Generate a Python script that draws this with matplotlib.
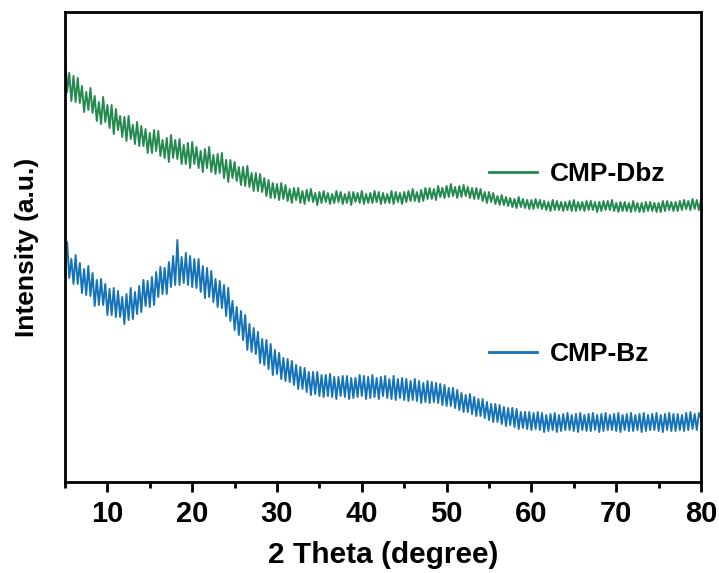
import matplotlib

matplotlib.use("Agg")
import matplotlib.pyplot as plt
import numpy as np
from matplotlib.lines import Line2D
from matplotlib.ticker import MultipleLocator


# 2 theta grid, 0.25 degree step from 5 to 80
TWO_THETA = np.arange(5.0, 80.001, 0.25)

# intensities (arbitrary units), 8 values = 2 degrees
CMP_DBZ = [
    432, 390, 409, 381, 406, 380, 404, 379,
    396, 370, 390, 372, 394, 369, 386, 361,
    380, 358, 385, 360, 377, 354, 377, 348,
    373, 352, 366, 345, 365, 341, 366, 343,
    357, 338, 360, 336, 356, 336, 353, 329,
    349, 329, 352, 331, 351, 326, 342, 324,
    344, 320, 347, 324, 342, 323, 343, 318,
    337, 318, 339, 314, 340, 318, 335, 314,
    331, 310, 333, 314, 335, 310, 327, 308,
    328, 309, 329, 304, 322, 300, 322, 304,
    320, 301, 315, 297, 315, 296, 316, 295,
    309, 291, 309, 291, 308, 290, 304, 286,
    302, 284, 299, 284, 298, 282, 299, 283,
    297, 281, 293, 279, 294, 282, 294, 279,
    291, 278, 292, 281, 293, 280, 289, 277,
    290, 279, 291, 280, 289, 278, 288, 279,
    291, 280, 290, 278, 288, 279, 290, 277,
    290, 280, 289, 279, 291, 278, 288, 279,
    289, 279, 291, 280, 290, 278, 289, 279,
    288, 279, 291, 278, 290, 280, 289, 278,
    290, 280, 291, 281, 293, 281, 290, 280,
    292, 281, 294, 283, 294, 283, 293, 282,
    296, 285, 294, 284, 296, 285, 298, 286,
    295, 284, 296, 285, 297, 286, 295, 284,
    294, 283, 294, 283, 293, 281, 290, 279,
    290, 280, 289, 278, 286, 277, 287, 277,
    285, 276, 284, 275, 283, 274, 285, 275,
    283, 274, 282, 273, 282, 273, 283, 274,
    282, 273, 281, 272, 280, 271, 282, 272,
    281, 272, 280, 271, 280, 272, 281, 271,
    282, 271, 280, 272, 280, 271, 281, 272,
    281, 272, 280, 270, 280, 271, 281, 272,
    281, 272, 282, 271, 279, 270, 280, 271,
    280, 271, 279, 270, 281, 271, 279, 270,
    279, 270, 280, 271, 280, 271, 279, 270,
    279, 270, 281, 271, 281, 272, 280, 271,
    280, 271, 281, 272, 282, 273, 281, 272,
    283, 273, 282, 272, 282,
]

CMP_BZ = [
    238, 240, 204, 223, 198, 227, 198, 219,
    189, 213, 187, 216, 186, 209, 176, 202,
    177, 203, 177, 198, 167, 193, 167, 194,
    165, 191, 165, 185, 158, 188, 162, 194,
    163, 190, 168, 196, 170, 202, 176, 201,
    175, 205, 177, 210, 185, 215, 188, 214,
    188, 220, 195, 226, 197, 242, 197, 225,
    199, 229, 197, 226, 195, 223, 194, 223,
    190, 216, 184, 214, 185, 211, 180, 203,
    175, 201, 174, 197, 166, 194, 161, 181,
    152, 175, 147, 171, 142, 167, 132, 158,
    130, 154, 128, 150, 119, 143, 117, 142,
    113, 138, 107, 132, 108, 129, 103, 124,
    101, 123, 100, 121, 97, 117, 93, 115,
    93, 114, 90, 110, 87, 110, 88, 110,
    86, 107, 85, 107, 86, 108, 85, 105,
    83, 105, 86, 106, 85, 106, 83, 104,
    84, 104, 85, 107, 86, 106, 83, 105,
    84, 107, 85, 104, 83, 105, 86, 106,
    84, 103, 83, 106, 82, 103, 84, 104,
    82, 103, 81, 101, 82, 103, 81, 101,
    79, 99, 80, 101, 79, 100, 80, 99,
    79, 98, 77, 97, 76, 94, 76, 94,
    74, 92, 72, 89, 70, 87, 70, 88,
    68, 85, 66, 83, 66, 83, 64, 80,
    62, 78, 60, 78, 60, 77, 58, 75,
    56, 74, 57, 74, 55, 73, 53, 70,
    54, 70, 53, 70, 52, 69, 53, 70,
    52, 69, 50, 67, 51, 68, 52, 69,
    50, 67, 51, 68, 52, 69, 52, 67,
    51, 68, 50, 69, 52, 67, 51, 68,
    51, 69, 52, 67, 50, 68, 51, 69,
    52, 67, 52, 68, 51, 69, 50, 67,
    52, 68, 51, 69, 51, 67, 52, 68,
    50, 69, 51, 67, 52, 68, 52, 69,
    51, 67, 50, 68, 52, 69, 51, 68,
    51, 68, 52, 67, 51, 69, 52, 70,
    53, 68, 52, 69, 64,
]

X_TICKS = [10, 20, 30, 40, 50, 60, 70, 80]

GREEN = "#23894f"
BLUE = "#1372b8"

BOLD = ["Liberation Sans", "DejaVu Sans"]


def main():
    fig = plt.figure(figsize=(7.19, 5.73), dpi=100)
    ax = fig.add_axes([0.0904, 0.1588, 0.8846, 0.8203])

    ax.plot(TWO_THETA, CMP_DBZ, color=GREEN, linewidth=1.4)
    ax.plot(TWO_THETA, CMP_BZ, color=BLUE, linewidth=1.4)

    ax.set_xlim(5, 80)
    ax.set_ylim(0, 470)
    ax.set_yticks([])
    ax.set_xticks(X_TICKS)
    ax.xaxis.set_minor_locator(MultipleLocator(5))
    ax.tick_params(axis="x", which="major", direction="out", length=7, width=2, pad=6)
    ax.tick_params(axis="x", which="minor", direction="out", length=4, width=2)
    for lab in ax.get_xticklabels():
        lab.set_fontfamily(BOLD)
        lab.set_fontweight("bold")
        lab.set_fontsize(21)
    for sp in ax.spines.values():
        sp.set_linewidth(2)

    ax.set_xlabel("2 Theta (degree)", fontfamily=BOLD, fontweight="bold",
                  fontsize=21.5, labelpad=9)
    ax.set_ylabel("Intensity (a.u.)", fontfamily=BOLD, fontweight="bold",
                  fontsize=19, labelpad=19)

    h_dbz = Line2D([], [], color=GREEN, linewidth=2)
    h_bz = Line2D([], [], color=BLUE, linewidth=2)
    leg_font = {"family": BOLD, "weight": "bold", "size": 19}
    leg1 = ax.legend([h_dbz], ["CMP-Dbz"], loc="center left",
                     bbox_to_anchor=(0.629, 0.655), frameon=False, prop=leg_font,
                     handlelength=1.82, handletextpad=0.5)
    ax.add_artist(leg1)
    ax.legend([h_bz], ["CMP-Bz"], loc="center left",
              bbox_to_anchor=(0.629, 0.272), frameon=False, prop=leg_font,
              handlelength=1.82, handletextpad=0.5)

    fig.savefig("out.png", dpi=100)
    plt.close(fig)


if __name__ == "__main__":
    main()
